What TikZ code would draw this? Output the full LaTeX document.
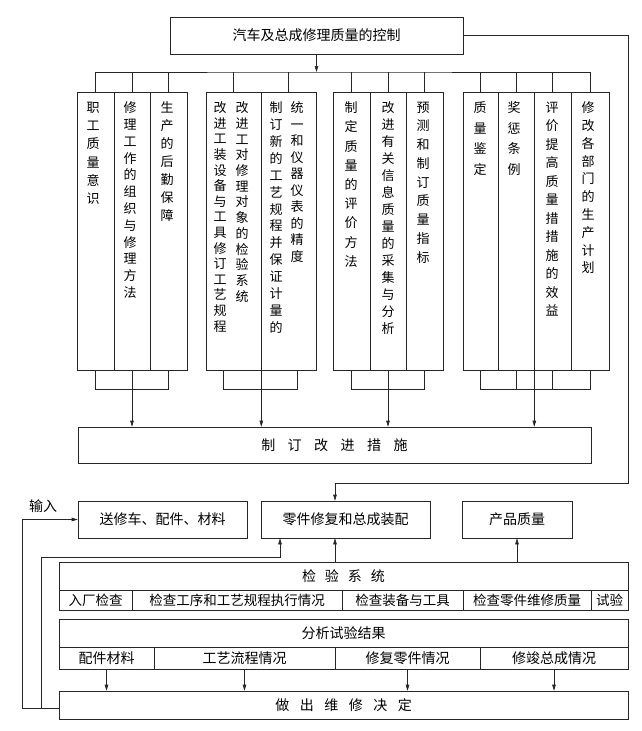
\documentclass[tikz,border=0pt]{standalone}
\usepackage{fontspec}
\setmainfont{Noto Sans CJK SC}
\usetikzlibrary{arrows.meta,calc}
\begin{document}
\begin{tikzpicture}[x=1pt,y=-1pt,line width=0.65pt,draw=black!85,
  box/.style={draw,inner sep=0pt,font=\fontsize{14}{16}\selectfont},
  cell/.style={draw,inner sep=0pt,font=\fontsize{13.5}{15}\selectfont},
  col/.style={draw,inner sep=0pt,minimum height=278pt},
  vt/.style={anchor=north,inner sep=0pt,align=center,font=\fontsize{13}{#1}\selectfont},
  arr/.style={-{Triangle[length=6pt,width=3.6pt]}}]
\useasboundingbox (0,0) rectangle (641,731);
% title
\node[box,minimum width=293pt,minimum height=37pt] (top) at (316.5,35.5) {汽车及总成修理质量的控制};
\coordinate (bus) at (316.5,72);
\coordinate (lb) at (0,389);
\draw[arr] (top.south) -- (bus);
% columns
\node[col,minimum width=37pt] (c1) at (95.5,231) {};
\node[col,minimum width=36pt] (c2) at (132,231) {};
\node[col,minimum width=37pt] (c3) at (168.5,231) {};
\node[col,minimum width=55pt] (c4) at (233.5,231) {};
\node[col,minimum width=55pt] (c5) at (288.5,231) {};
\node[col,minimum width=37pt] (c6) at (351.5,231) {};
\node[col,minimum width=36pt] (c7) at (388,231) {};
\node[col,minimum width=37pt] (c8) at (424.5,231) {};
\node[col,minimum width=35pt] (c9) at (480.5,231) {};
\node[col,minimum width=36pt] (c10) at (516,231) {};
\node[col,minimum width=37pt] (c11) at (552.5,231) {};
\node[col,minimum width=38pt] (c12) at (590,231) {};
% column texts
\node[vt=18.3] (t1) at (93,101.5) {职\\工\\质\\量\\意\\识};
\node[vt=16.8] (t2) at (130,101.5) {修\\理\\工\\作\\的\\组\\织\\与\\修\\理\\方\\法};
\node[vt=18] (t3) at (167,101.5) {生\\产\\的\\后\\勤\\保\\障};
\node[vt=15.6] (t4a) at (220,101.5) {改\\进\\工\\装\\设\\备\\与\\工\\具\\修\\订\\工\\艺\\规\\程};
\node[vt=15.7] (t4b) at (242,101.5) {改\\进\\工\\对\\修\\理\\对\\象\\的\\检\\验\\系\\统};
\node[vt=16.9] (t5a) at (276,101.5) {制\\订\\新\\的\\工\\艺\\规\\程\\并\\保\\证\\计\\量\\的};
\node[vt=16.5] (t5b) at (297,101.5) {统\\一\\和\\仪\\器\\仪\\表\\的\\精\\度};
\node[vt=19.2] (t6) at (351,101.5) {制\\定\\质\\量\\的\\评\\价\\方\\法};
\node[vt=17] (t7) at (388,101.5) {改\\进\\有\\关\\信\\息\\质\\量\\的\\采\\集\\与\\分\\析};
\node[vt=18.75] (t8) at (423,101.5) {预\\测\\和\\制\\订\\质\\量\\指\\标};
\node[vt=20.5] (t9) at (480,101.5) {质\\量\\鉴\\定};
\node[vt=20.5] (t10) at (514,101.5) {奖\\惩\\条\\例};
\node[vt=18.5] (t11) at (552,101.5) {评\\价\\提\\高\\质\\量\\措\\措\\施\\的\\效\\益};
\node[vt=17.8] (t12) at (588,101.5) {修\\改\\各\\部\\门\\的\\生\\产\\计\\划};
% top bus
\draw (c1.north) |- (bus) -| (c12.north);
\foreach \n in {c2,c3,c4,c5,c6,c7,c8,c9,c10,c11} \draw (\n.north) -- (\n.north |- bus);
% measures box
\node[box,minimum width=513pt,minimum height=36pt] (m) at (334.5,445) {制\hspace{12.5pt}订\hspace{12.5pt}改\hspace{12.5pt}进\hspace{12.5pt}措\hspace{12.5pt}施};
% bottom brackets
\draw (c1.south) |- (c3.south |- lb) -- (c3.south);
\draw[arr] (c2.south) -- (c2.south |- m.north);
\coordinate (g2l) at ([xshift=-10.5pt]c4.south);
\coordinate (g2r) at ([xshift=8.5pt]c5.south);
\draw (g2l) |- (g2r |- lb) -- (g2r);
\draw[arr] (c4.south east) -- (c4.south east |- m.north);
\draw (c6.south) |- (c8.south |- lb) -- (c8.south);
\draw[arr] (c7.south) -- (c7.south |- m.north);
\draw (c9.south) |- (c12.south |- lb) -- (c12.south);
\draw (c10.south) -- (c10.south |- lb);
\draw (c11.south) -- (c11.south |- lb);
\draw[arr] (c10.south east) -- (c10.south east |- m.north);
% middle row
\node[box,minimum width=169pt,minimum height=37pt] (in) at (162.5,519.5) {送修车、配件、材料};
\node[box,minimum width=169pt,minimum height=37pt] (repair) at (345.5,519.5) {零件修复和总成装配};
\node[box,minimum width=110pt,minimum height=37pt] (prod) at (517,519.5) {产品质量};
\node[inner sep=0pt,font=\fontsize{14}{16}\selectfont] (inlab) at (43,506) {输入};
% feedback from title
\coordinate (fb) at (628,483);
\coordinate (rt) at ([xshift=-10.5pt]repair.north);
\draw[arr] (top.east) -| (fb) -| (rt);
% inspection system
\node[box,minimum width=569pt,minimum height=28pt] (insp) at (343.5,576) {检\hspace{9pt}验\hspace{9pt}系\hspace{9pt}统};
\node[cell,minimum width=73pt,minimum height=20pt] (i1) at (95.5,600) {入厂检查};
\node[cell,minimum width=210pt,minimum height=20pt] (i2) at (237,600) {检查工序和工艺规程执行情况};
\node[cell,minimum width=121pt,minimum height=20pt] (i3) at (402.5,600) {检查装备与工具};
\node[cell,minimum width=128pt,minimum height=20pt] (i4) at (527,600) {检查零件维修质量};
\node[cell,minimum width=37pt,minimum height=20pt] (i5) at (609.5,600) {试验};
% analysis
\node[box,minimum width=569pt,minimum height=28pt] (ana) at (343.5,633) {分析试验结果};
\node[box,minimum width=95pt,minimum height=22pt] (a1) at (106.5,658) {配件材料};
\node[box,minimum width=181pt,minimum height=22pt] (a2) at (244.5,658) {工艺流程情况};
\node[box,minimum width=145pt,minimum height=22pt] (a3) at (407.5,658) {修复零件情况};
\node[box,minimum width=148pt,minimum height=22pt] (a4) at (554,658) {修竣总成情况};
% decision
\node[box,minimum width=569pt,minimum height=28pt] (dec) at (343.5,705) {做\hspace{10.5pt}出\hspace{10.5pt}维\hspace{10.5pt}修\hspace{10.5pt}决\hspace{10.5pt}定};
\foreach \n in {a1,a2,a3,a4} \draw[arr] (\n.south) -- (\n.south |- dec.north);
% arrows up into the middle row
\coordinate (r2) at ([xshift=-10.5pt]repair.south);
\draw[arr] (insp.north -| r2) -- (r2);
\draw[arr] (insp.north -| prod.south) -- (prod.south);
% loops on the left
\coordinate (dl) at ([yshift=-3pt]dec.west);
\coordinate (lp) at (41,557);
\coordinate (r1) at ([xshift=-65.5pt]repair.south);
\draw[arr] (dl) -| (lp) -| (r1);
\coordinate (op) at ([xshift=-55.5pt]in.west);
\draw[arr] (dl) -| (op) -- (in.west);
\end{tikzpicture}
\end{document}
